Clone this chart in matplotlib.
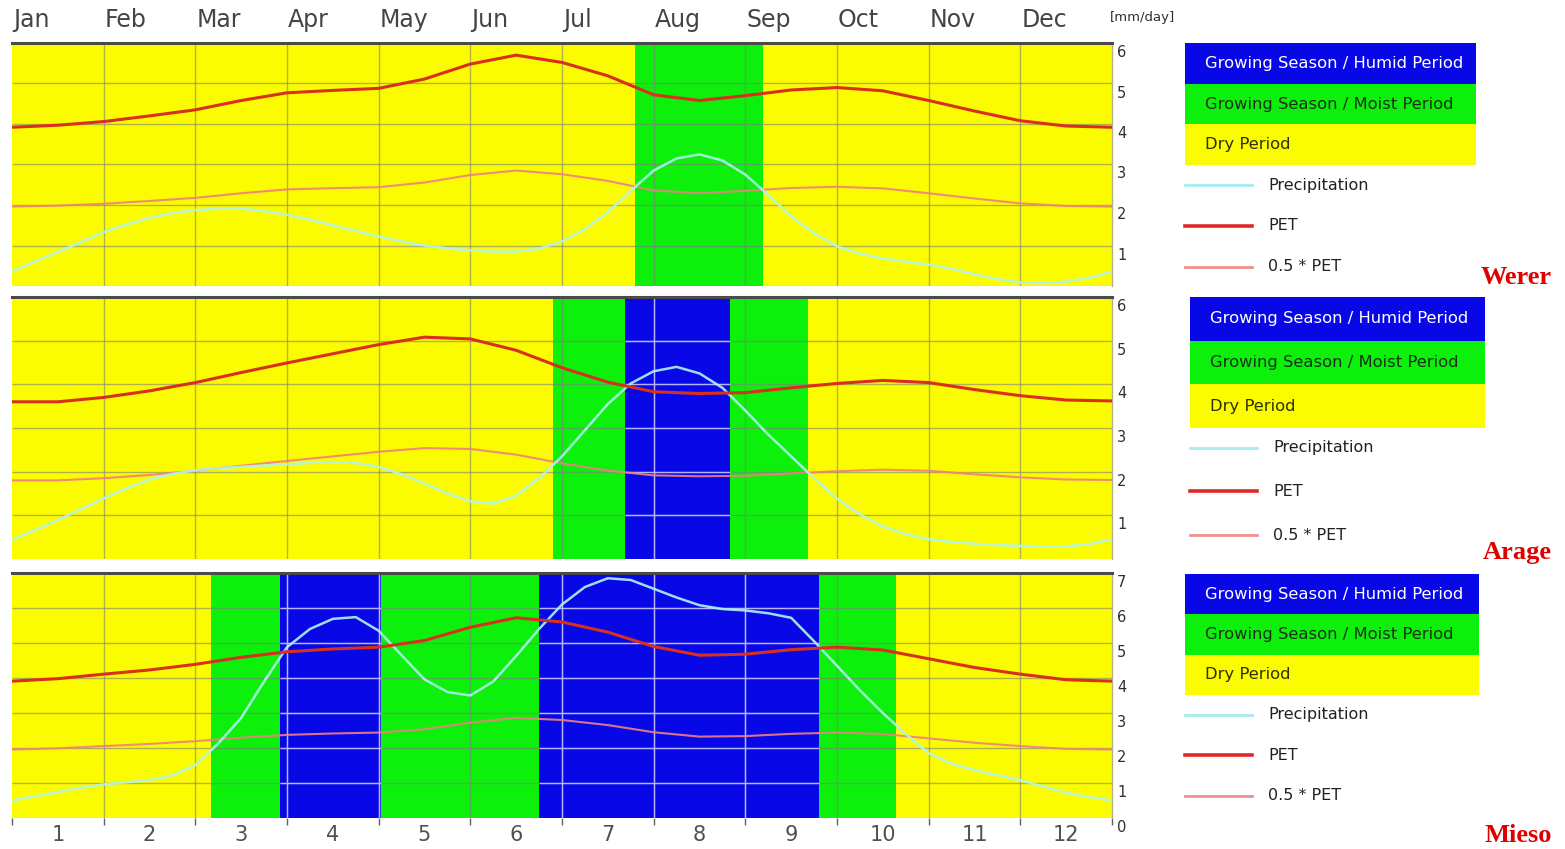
import numpy as np
import matplotlib.pyplot as plt
from matplotlib.patches import Rectangle
from matplotlib.lines import Line2D
from matplotlib.transforms import offset_copy

# ---- data ----------------------------------------------------------------
month_names = ['Jan', 'Feb', 'Mar', 'Apr', 'May', 'Jun',
               'Jul', 'Aug', 'Sep', 'Oct', 'Nov', 'Dec']
month_numbers = [str(i) for i in range(1, 13)]

# PET read every half month, precipitation every quarter month (mm/day)
x_half = np.arange(0, 12.01, 0.5)
x_quarter = np.arange(0, 12.01, 0.25)

werer_pet = [3.92, 3.97, 4.06, 4.20, 4.35, 4.58, 4.77, 4.83, 4.88, 5.11, 5.48, 5.70,
             5.52, 5.19, 4.72, 4.58, 4.70, 4.84, 4.90, 4.82, 4.58, 4.32, 4.08, 3.95, 3.92]
werer_prec = [0.36, 0.60, 0.84, 1.08, 1.33, 1.52, 1.68, 1.80, 1.87, 1.91, 1.91, 1.85,
              1.76, 1.64, 1.50, 1.36, 1.22, 1.10, 1.00, 0.93, 0.88, 0.85, 0.85, 0.92,
              1.10, 1.40, 1.82, 2.35, 2.85, 3.15, 3.25, 3.10, 2.75, 2.25, 1.72, 1.30,
              0.98, 0.80, 0.68, 0.60, 0.53, 0.42, 0.29, 0.17, 0.09, 0.07, 0.11, 0.20, 0.36]
werer_bands = [(6.80, 8.19, 'moist')]

arage_pet = [3.60, 3.60, 3.70, 3.85, 4.04, 4.27, 4.49, 4.70, 4.91, 5.08, 5.04, 4.78,
             4.38, 4.05, 3.83, 3.79, 3.81, 3.92, 4.02, 4.09, 4.04, 3.88, 3.74, 3.64, 3.62]
arage_prec = [0.44, 0.66, 0.89, 1.14, 1.39, 1.62, 1.82, 1.95, 2.03, 2.08, 2.11, 2.14,
              2.17, 2.20, 2.22, 2.20, 2.11, 1.94, 1.73, 1.50, 1.32, 1.27, 1.45, 1.85,
              2.35, 2.95, 3.55, 4.02, 4.30, 4.40, 4.25, 3.92, 3.40, 2.85, 2.35, 1.85,
              1.38, 1.02, 0.75, 0.57, 0.45, 0.39, 0.35, 0.32, 0.30, 0.29, 0.29, 0.34, 0.45]
arage_bands = [(5.90, 6.69, 'moist'), (6.69, 7.83, 'humid'), (7.83, 8.68, 'moist')]

mieso_pet = [3.91, 3.98, 4.11, 4.23, 4.39, 4.59, 4.75, 4.83, 4.88, 5.07, 5.45, 5.72,
             5.60, 5.31, 4.90, 4.65, 4.68, 4.81, 4.88, 4.80, 4.55, 4.30, 4.11, 3.95, 3.91]
mieso_prec = [0.50, 0.62, 0.74, 0.86, 0.96, 1.02, 1.08, 1.22, 1.51, 2.13, 2.86, 3.90,
              4.88, 5.40, 5.69, 5.74, 5.35, 4.65, 3.96, 3.60, 3.50, 3.90, 4.63, 5.40,
              6.10, 6.60, 6.85, 6.80, 6.55, 6.30, 6.08, 5.97, 5.93, 5.85, 5.72, 5.05,
              4.35, 3.65, 3.00, 2.40, 1.85, 1.55, 1.37, 1.22, 1.08, 0.90, 0.72, 0.60, 0.50]
mieso_bands = [(2.17, 2.92, 'moist'), (2.92, 4.03, 'humid'), (4.03, 5.75, 'moist'),
               (5.75, 8.80, 'humid'), (8.80, 9.64, 'moist')]

# ---- styling ---------------------------------------------------------------
YELLOW = '#fcfc00'
GREEN = '#0cf00c'
BLUE = '#0808e6'
PET_COL = '#d8301c'
HALF_COL = '#f08080'
PREC_COL = '#b0f4f0'
band_col = {'moist': GREEN, 'humid': BLUE}

W, H = 1565, 849


def px_rect(left, top, right, bottom):
    return [left / W, 1 - bottom / H, (right - left) / W, (bottom - top) / H]


fig = plt.figure(figsize=(W / 100, H / 100), dpi=100)

panels = [
    ('Werer', werer_pet, werer_prec, werer_bands, 6, range(1, 7), (12, 43, 1112, 286)),
    ('Arage', arage_pet, arage_prec, arage_bands, 6, range(1, 7), (12, 297, 1112, 559)),
    ('Mieso', mieso_pet, mieso_prec, mieso_bands, 7, range(0, 8), (12, 573, 1112, 818)),
]

axes = []
for i, (name, pet, prec, bands, ymax, ylabels, rect) in enumerate(panels):
    ax = fig.add_axes(px_rect(*rect))
    axes.append(ax)
    ax.set_facecolor(YELLOW)
    ax.set_xlim(0, 12)
    ax.set_ylim(0, ymax)

    for a, b, kind in bands:
        ax.axvspan(a, b, color=band_col[kind], lw=0, zorder=0.5)

    # grid
    ax.hlines(range(1, ymax), 0, 12, color='#808080', alpha=0.6, lw=1, zorder=1)
    ax.vlines(range(1, 12), 0, ymax, color='#808080', alpha=0.6, lw=1, zorder=1)
    for a, b, kind in bands:
        if kind == 'humid':
            ax.hlines(range(1, ymax), a, b, color='#b4b4ff', lw=1, zorder=1.5)
            inner = [m for m in range(1, 12) if a < m < b]
            ax.vlines(inner, 0, ymax, color='#b4b4ff', lw=1, zorder=1.5)

    ax.plot(x_half, np.array(pet) * 0.5, color=HALF_COL, lw=1.5, alpha=0.9, zorder=3)
    ax.plot(x_quarter, prec, color=PREC_COL, lw=1.8, alpha=0.9, zorder=3.5,
            solid_joinstyle='round')
    ax.plot(x_half, pet, color=PET_COL, lw=2.2, zorder=4, solid_joinstyle='round')

    for s in ['left', 'bottom']:
        ax.spines[s].set_visible(False)
    ax.spines['top'].set_color('#4a4a4a')
    ax.spines['top'].set_linewidth(2.2)
    ax.spines['right'].set_color('#b8b080')
    ax.spines['right'].set_linewidth(1)

    ax.set_yticks([])
    tr = offset_copy(ax.get_yaxis_transform(), fig=fig, x=5, y=-2, units='dots')
    for v in ylabels:
        ax.text(1.0, v, str(v), transform=tr, ha='left', va='top',
                fontsize=10.5, color='#303030')

    if i == 2:
        ax.set_xticks(range(13))
        ax.set_xticks(x_half[1::2], minor=True)
        ax.set_xticklabels([], minor=False)
        ax.set_xticklabels(month_numbers, minor=True)
        ax.tick_params(axis='x', which='major', length=5, width=1, color='#606060')
        ax.tick_params(axis='x', which='minor', length=0, pad=5,
                       labelsize=15, labelcolor='#505050')
    else:
        ax.set_xticks([])

# month names above the first panel
top_tr = offset_copy(axes[0].get_xaxis_transform(), fig=fig, y=11, units='dots')
for m, lab in enumerate(month_names):
    axes[0].text(m + 0.01, 1.0, lab, transform=top_tr, ha='left', va='bottom',
                 fontsize=17, color='#444444')

# ---- legends (overlay in pixel coordinates) --------------------------------
lg = fig.add_axes([0, 0, 1, 1], zorder=5)
lg.set_xlim(0, W)
lg.set_ylim(H, 0)
lg.axis('off')

lg.text(1110, 17, '[mm/day]', fontsize=9.5, color='#303030', ha='left', va='center')

legend_spots = [
    # left, top, row height, box width, station label y
    (1185, 43, 40.7, 291, 277),
    (1190, 297, 43.6, 295, 553),
    (1185, 574, 40.3, 294, 835),
]
rows = [('Growing Season / Humid Period', BLUE, 'white'),
        ('Growing Season / Moist Period', GREEN, '#143214'),
        ('Dry Period', YELLOW, '#303000')]
line_rows = [('Precipitation', '#a8ecf0', 2.0),
             ('PET', '#e02828', 2.6),
             ('0.5 * PET', '#f09090', 2.0)]

for (left, top, rh, bw, sy), (name, *_rest) in zip(legend_spots, panels):
    for k, (txt, fc, tc) in enumerate(rows):
        lg.add_patch(Rectangle((left, top + k * rh), bw, rh, facecolor=fc, lw=0))
        lg.text(left + 20, top + (k + 0.5) * rh, txt, fontsize=11.8, color=tc,
                ha='left', va='center')
    for k, (txt, col, lw) in enumerate(line_rows):
        yy = top + 3 * rh + 20 + k * rh
        lg.add_line(Line2D([left, left + 67], [yy, yy], color=col, lw=lw))
        lg.text(left + 83, yy, txt, fontsize=11.5, color='#202020', ha='left', va='center')
    lg.text(1552, sy, name, fontsize=19, color='#e00000', fontweight='bold',
            family='Liberation Serif', ha='right', va='center')

fig.savefig('out.png', dpi=100)
